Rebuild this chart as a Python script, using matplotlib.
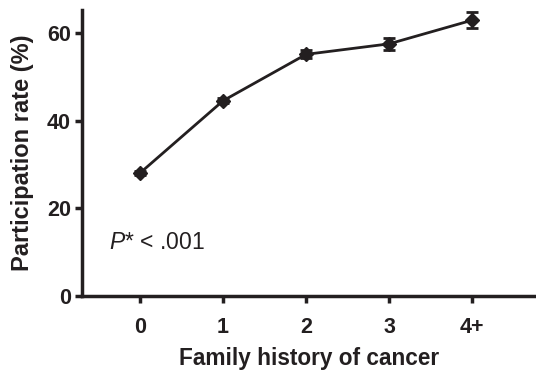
import matplotlib
matplotlib.use("Agg")
import matplotlib.pyplot as plt

plt.rcParams["font.family"] = ["Liberation Sans", "DejaVu Sans"]
plt.rcParams["mathtext.fontset"] = "custom"
plt.rcParams["mathtext.rm"] = "Liberation Sans"
plt.rcParams["mathtext.it"] = "Liberation Sans:italic"

categories = ["0", "1", "2", "3", "4+"]
rates = [28.1, 44.6, 55.2, 57.6, 63.0]
errors = [0.5, 0.6, 0.9, 1.4, 1.8]

fig = plt.figure(figsize=(5.36, 3.76), dpi=100)
ax = fig.add_axes([0.153, 0.213, 0.847, 0.76])

x = range(len(categories))
ax.errorbar(x, rates, yerr=errors, color="#231f20", lw=2, marker="D", ms=7.5,
            capsize=4, capthick=2, elinewidth=2)

ax.set_xlim(-0.7, 4.77)
ax.set_ylim(0, 65.3)
ax.set_xticks(list(x))
ax.set_xticklabels(categories)
ax.set_yticks([0, 20, 40, 60])

for side in ["top", "right"]:
    ax.spines[side].set_visible(False)
for side in ["left", "bottom"]:
    ax.spines[side].set_linewidth(2.5)
    ax.spines[side].set_color("#231f20")
ax.tick_params(width=2.5, length=5, color="#231f20", labelsize=15.5, pad=3)
for lbl in ax.get_xticklabels() + ax.get_yticklabels():
    lbl.set_fontweight("bold")
    lbl.set_color("#231f20")
ax.tick_params(axis="x", pad=10)

ax.set_xlabel("Family history of cancer", fontsize=16.3, fontweight="bold",
              color="#231f20", labelpad=7)
ax.set_ylabel("Participation rate (%)", fontsize=17, fontweight="bold",
              color="#231f20", labelpad=9)

ax.text(-0.38, 12.2, r"$P$* < .001", fontsize=16.5, color="#231f20",
        va="center", ha="left")

fig.savefig("out.png", dpi=100)
